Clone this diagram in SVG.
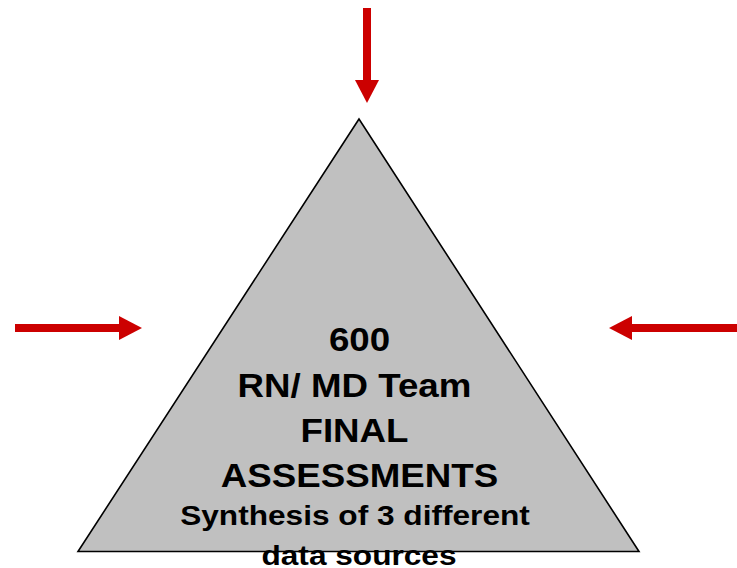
<svg xmlns="http://www.w3.org/2000/svg" width="737" height="568" viewBox="0 0 737 568">
  <defs>
    <style>
      .bg { fill: #ffffff; }
      .tri { fill: #c0c0c0; stroke: #000000; stroke-width: 1.6; stroke-linejoin: miter; }
      .big { font-family: "Liberation Sans", Arial, sans-serif; font-weight: bold; font-size: 32.5px; fill: #000000; }
      .small { font-family: "Liberation Sans", Arial, sans-serif; font-weight: bold; font-size: 28px; fill: #000000; }
      .arrow { stroke: #cc0000; stroke-width: 8; fill: none; }
    </style>
    <marker id="head" markerUnits="userSpaceOnUse" viewBox="0 0 23 24" markerWidth="23" markerHeight="24" refX="1" refY="12" orient="auto">
      <path d="M0,0 L23,12 L0,24 Z" fill="#cc0000"/>
    </marker>
  </defs>
  <rect class="bg" x="0" y="0" width="737" height="568"/>
  <g id="assessment">
    <polygon class="tri" points="359,119 78,551.5 639,551.5"/>
    <text class="big" text-anchor="middle" transform="translate(359.5,351) scale(1.13,1)">600</text>
    <text class="big" text-anchor="middle" transform="translate(354.5,396.5) scale(1.13,1)">RN/ MD Team</text>
    <text class="big" text-anchor="middle" transform="translate(354.5,441.5) scale(1.13,1)">FINAL</text>
    <text class="big" text-anchor="middle" transform="translate(359.5,486.5) scale(1.13,1)">ASSESSMENTS</text>
    <text class="small" text-anchor="middle" transform="translate(355,524.5) scale(1.13,1)">Synthesis of 3 different</text>
    <text class="small" text-anchor="middle" transform="translate(359,565) scale(1.13,1)">data sources</text>
  </g>
  <g id="connectors">
    <line class="arrow" x1="367" y1="8" x2="367" y2="81" marker-end="url(#head)"/>
    <line class="arrow" x1="15" y1="328" x2="120" y2="328" marker-end="url(#head)"/>
    <line class="arrow" x1="737" y1="328" x2="631" y2="328" marker-end="url(#head)"/>
  </g>
</svg>
